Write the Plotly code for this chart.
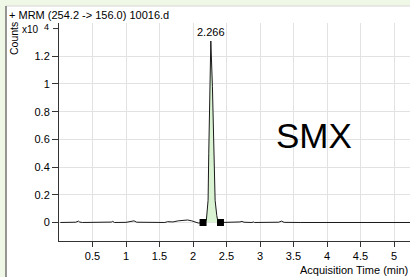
import plotly.graph_objects as go

# Chromatogram data (counts in units of 1e4)
time_min = [0.02, 0.15, 0.25, 0.29, 0.31, 0.35, 0.5, 0.7, 0.78, 0.8, 0.83, 1.0, 1.08, 1.12, 1.16, 1.3,
            1.5, 1.58, 1.62, 1.7, 1.78, 1.85, 1.92, 1.98, 2.03, 2.08, 2.15,
            2.18, 2.2, 2.215, 2.225, 2.235, 2.25, 2.266, 2.29, 2.31, 2.33, 2.355, 2.37, 2.41,
            2.5, 2.65, 2.7, 2.73, 2.76, 2.88, 2.9, 2.92, 3.1, 3.28, 3.32, 3.36, 3.6, 4.0, 4.5, 5.0, 5.3]
counts_1e4 = [0.0, 0.0, 0.002, 0.01, 0.003, 0.0, 0.001, 0.0, 0.003, 0.008, 0.0, 0.001, 0.005, 0.012, 0.002, 0.0,
              0.002, 0.0, 0.006, 0.004, 0.012, 0.016, 0.018, 0.012, 0.002, -0.004, 0.0,
              0.0, 0.02, 0.1, 0.16, 0.5, 0.98, 1.31, 0.98, 0.5, 0.16, 0.05, 0.01, 0.0,
              0.001, 0.0, 0.004, 0.008, 0.002, 0.0, 0.004, 0.0, 0.0, 0.002, 0.01, 0.001, 0.0, 0.0, 0.0, 0.0, 0.0]

peak_rt = 2.266
peak_height = 1.31
peak_start = 2.15
peak_end = 2.41

x_ticks = [0.5, 1, 1.5, 2, 2.5, 3, 3.5, 4, 4.5, 5]
x_tick_labels = ["0.5", "1", "1.5", "2", "2.5", "3", "3.5", "4", "4.5", "5"]
y_ticks = [0, 0.2, 0.4, 0.6, 0.8, 1.0, 1.2]
y_tick_labels = ["0", "0.2", "0.4", "0.6", "0.8", "1", "1.2"]
y_exponent_tick = 1.4

title_text = "+ MRM (254.2 -> 156.0) 10016.d"
compound = "SMX"

FONT = "Liberation Sans, Arial, sans-serif"

fill_x = [t for t in time_min if peak_start <= t <= peak_end]
fill_y = [c for t, c in zip(time_min, counts_1e4) if peak_start <= t <= peak_end]

fig = go.Figure()
fig.add_trace(go.Scatter(x=fill_x, y=fill_y, mode="lines", fill="tozeroy",
                         fillcolor="#d9f3d3", line=dict(color="rgba(0,0,0,0)", width=0),
                         hoverinfo="skip", showlegend=False))
fig.add_trace(go.Scatter(x=time_min, y=counts_1e4, mode="lines",
                         line=dict(color="#1a1a1a", width=1), showlegend=False))
fig.add_trace(go.Scatter(x=[peak_start, peak_end], y=[0, 0], mode="markers",
                         marker=dict(symbol="square", size=7, color="black"), showlegend=False))

W, H = 410, 277
L, R, T, B = 59, 0, 23, 36
pw, ph = W - L - R, H - T - B

def px(xp):
    return (xp - L) / pw

def py(yp):
    return (H - B - yp) / ph

annotations = [
    dict(text=title_text, x=px(7), y=py(15), xref="paper", yref="paper", xanchor="left",
         yanchor="middle", showarrow=False, font=dict(size=11, color="black", family=FONT)),
    dict(text="Counts", x=px(14), y=py(39), xref="paper", yref="paper", xanchor="center",
         yanchor="middle", textangle=-90, showarrow=False, font=dict(size=10.5, color="black", family=FONT)),
    dict(text="x10", x=px(41), y=y_exponent_tick, xref="paper", yref="y", xanchor="right",
         yanchor="middle", yshift=-1, showarrow=False, font=dict(size=10, color="black", family=FONT)),
    dict(text="4", x=px(42), y=y_exponent_tick, xref="paper", yref="y", xanchor="left",
         yanchor="middle", yshift=2, showarrow=False, font=dict(size=9, color="black", family=FONT)),
    dict(text="Acquisition Time (min)", x=1.0, y=py(270), xref="paper", yref="paper", xanchor="right",
         yanchor="middle", showarrow=False, font=dict(size=11, color="black", family=FONT)),
    dict(text=f"{peak_rt:.3f}", x=peak_rt, y=peak_height, xref="x", yref="y", xanchor="center",
         yanchor="bottom", yshift=1, showarrow=False, font=dict(size=11, color="black", family=FONT)),
    dict(text=compound, x=px(314), y=py(135), xref="paper", yref="paper", xanchor="center",
         yanchor="middle", showarrow=False, font=dict(size=35, color="black", family=FONT)),
]

shapes = [
    dict(type="rect", xref="paper", yref="paper", x0=px(6), x1=px(412), y0=py(280), y1=py(6),
         fillcolor="white", line=dict(width=0), layer="below"),
    dict(type="line", xref="paper", yref="paper", x0=px(6), x1=px(412), y0=py(6), y1=py(6),
         line=dict(color="#d6d6d6", width=1)),
    dict(type="line", xref="paper", yref="paper", x0=px(6), x1=px(6), y0=py(6), y1=py(280),
         line=dict(color="#333333", width=1)),
    # tick mark for the exponent row
    dict(type="line", xref="paper", yref="y", x0=px(53), x1=0, y0=y_exponent_tick, y1=y_exponent_tick,
         line=dict(color="#333333", width=1)),
]

fig.update_layout(
    width=W, height=H,
    margin=dict(l=L, r=R, t=T, b=B, pad=0),
    paper_bgcolor="#eff8e6",
    plot_bgcolor="rgba(0,0,0,0)",
    font=dict(family=FONT, size=11, color="black"),
    annotations=annotations,
    shapes=shapes,
    showlegend=False,
)
fig.update_xaxes(range=[0, pw / 67.0], tickvals=x_ticks, ticktext=x_tick_labels,
                 showgrid=True, gridcolor="#e2e2e2", gridwidth=1,
                 showline=True, linecolor="#333333", linewidth=1, mirror=False,
                 ticks="outside", ticklen=5, tickcolor="#333333", zeroline=False,
                 tickfont=dict(size=11, family=FONT, color="black"))
fig.update_yaxes(range=[-0.1336, 1.440], tickvals=y_ticks, ticktext=y_tick_labels,
                 showgrid=True, gridcolor="#e2e2e2", gridwidth=1,
                 showline=True, linecolor="#333333", linewidth=1,
                 ticks="outside", ticklen=6, tickcolor="#333333", zeroline=False,
                 tickfont=dict(size=11, family=FONT, color="black"))

fig.write_html("out.html", config={"displayModeBar": False},
               post_script="document.body.style.margin='0';document.body.style.overflow='hidden';")
